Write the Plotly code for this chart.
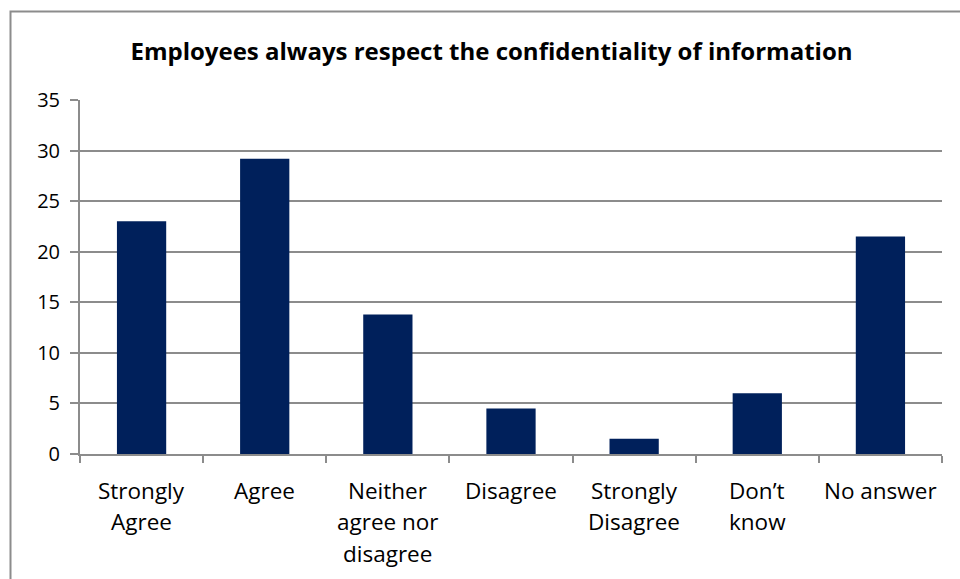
import plotly.graph_objects as go

# Survey responses (percent of respondents)
categories = ["Strongly\nAgree", "Agree", "Neither\nagree nor\ndisagree", "Disagree",
              "Strongly\nDisagree", "Don’t\nknow", "No answer"]
values = [23.0, 29.2, 13.8, 4.5, 1.5, 6.0, 21.5]
y_ticks = [0, 5, 10, 15, 20, 25, 30, 35]
title_text = "Employees always respect the confidentiality of information"

FONT = "Open Sans"
GRID = "#8c8c8c"
BAR = "#00205B"

keys = [c.replace("\n", " ") for c in categories]

fig = go.Figure(go.Bar(x=keys, y=values, marker=dict(color=BAR, line=dict(width=0)),
                       width=0.4))

# Multi-line category labels under the axis
annotations = []
for key, label in zip(keys, categories):
    for i, line in enumerate(label.split("\n")):
        annotations.append(dict(
            x=key, xref="x", y=0, yref="paper", yanchor="middle", xanchor="center",
            yshift=-(36 + 31.5 * i), text=line, showarrow=False,
            font=dict(family=FONT, size=22.5, color="#000000")))

L, R, T, B = 80, 18, 100, 125
W, H = 960, 579
pw, ph = W - L - R, H - T - B

fig.update_layout(
    width=W, height=H,
    margin=dict(l=L, r=R, t=T, b=B),
    paper_bgcolor="white", plot_bgcolor="white",
    showlegend=False,
    title=dict(text=f"<b>{title_text}</b>", x=0.512, xanchor="center",
               y=1 - 52 / H, yanchor="middle", yref="container",
               font=dict(family=FONT, size=24, color="#000000")),
    xaxis=dict(type="category", showticklabels=False, ticks="outside",
               tickson="boundaries", ticklen=7, tickcolor=GRID, tickwidth=1.5,
               showline=True, linecolor=GRID, linewidth=2, showgrid=False,
               zeroline=False, fixedrange=True),
    yaxis=dict(range=[0, 35], tickvals=y_ticks, ticks="outside", ticklen=8,
               tickcolor=GRID, tickwidth=1.5, showline=True, linecolor=GRID,
               linewidth=2, showgrid=True, gridcolor=GRID, gridwidth=1.5,
               zeroline=False, ticklabelstandoff=6,
               tickfont=dict(family=FONT, size=20, color="#000000")),
    annotations=annotations,
    shapes=[dict(type="rect", xref="paper", yref="paper",
                 x0=(10.5 - L) / pw, x1=(W + 10 - L) / pw,
                 y0=-(H + 10 - T - ph) / ph, y1=(H - B - 11.5) / ph,
                 line=dict(color="#8c8c8c", width=2), fillcolor="rgba(0,0,0,0)",
                 layer="below")],
)

fig.write_html("out.html")
